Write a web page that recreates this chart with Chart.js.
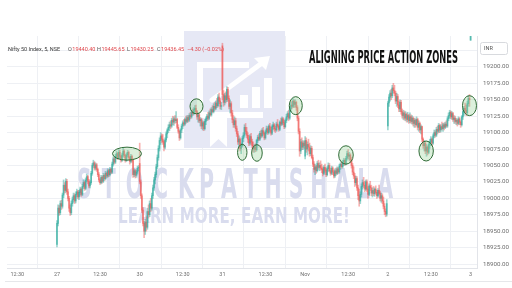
<!DOCTYPE html>
<html><head><meta charset="utf-8">
<script src="https://cdn.jsdelivr.net/npm/chart.js@4"></script>
<style>html,body{margin:0;padding:0;background:#fff;overflow:hidden}</style>
</head><body>
<canvas id="c" width="512" height="288"></canvas>
<script>
// ---------- DATA ----------
const timeTickLabels = ["12:30","27","12:30","30","12:30","31","12:30","Nov","12:30","2","12:30","3"];
const timeTickBars   = [-36, 0, 39, 75, 114, 150, 189, 225, 264, 300, 339, 375];
const priceTicks = [18900,18925,18950,18975,19000,19025,19050,19075,19100,19125,19150,19175,19200,19225];

const opens = [
// 27 Oct
18930,18962,18985,18978,18992,18988,19005,19020,19012,19026,19010,19000,18985,18978,18992,
18998,19004,18996,19006,19010,19002,19009,19014,19006,19018,19024,19015,19028,19033,19026,
19019,19024,19038,19050,19054,19046,19051,19044,19036,19028,19024,19032,19026,19035,19030,
19038,19034,19042,19036,19044,19040,19052,19060,19055,19064,19068,19062,19070,19064,19058,
19066,19072,19065,19058,19066,19070,19062,19056,19064,19058,19036,19042,19035,19040,19046,
// 30 Oct
19053,19025,19004,18982,18962,18950,18964,18956,18980,18975,18992,18985,19004,19016,19028,
19036,19048,19062,19076,19088,19095,19090,19086,19078,19089,19098,19104,19108,19112,19110,
19119,19116,19121,19118,19120,19108,19102,19092,19104,19110,19115,19113,19120,19117,19123,
19119,19126,19124,19131,19129,19135,19137,19132,19124,19127,19118,19120,19110,19115,19106,
19117,19121,19125,19122,19130,19127,19135,19132,19140,19137,19145,19141,19154,19148,19140,
// 31 Oct
19232,19158,19146,19156,19150,19166,19152,19140,19144,19130,19120,19112,19118,19106,19098,
19086,19090,19076,19080,19091,19096,19108,19102,19096,19090,19084,19094,19086,19080,19075,
19078,19074,19088,19093,19090,19099,19095,19103,19099,19092,19101,19106,19100,19110,19104,
19099,19109,19112,19106,19104,19113,19110,19105,19116,19113,19121,19115,19109,19118,19124,
19129,19122,19136,19142,19140,19148,19143,19146,19138,19122,19102,19072,19086,19078,19084,
// 1 Nov
19064,19088,19075,19082,19078,19068,19076,19062,19052,19044,19048,19042,19053,19047,19050,
19046,19044,19038,19047,19043,19036,19045,19050,19042,19038,19046,19040,19034,19042,19038,
19045,19040,19049,19052,19048,19055,19058,19053,19061,19068,19064,19066,19058,19050,19040,
19034,19024,19030,19016,19004,18996,19006,19018,19024,19020,19014,19025,19014,19006,19019,
19016,19008,19012,19007,19014,19009,19004,19012,19008,19000,19004,18996,18988,18980,18976,
// 2 Nov
19110,19145,19154,19160,19156,19168,19164,19160,19148,19155,19142,19136,19146,19132,19126,
19130,19122,19128,19120,19126,19118,19124,19117,19122,19114,19119,19112,19120,19108,19114,
19104,19109,19090,19080,19084,19072,19078,19070,19082,19086,19090,19084,19095,19100,19096,
19105,19102,19111,19104,19109,19106,19112,19108,19113,19110,19121,19126,19131,19124,19129,
19120,19122,19117,19119,19114,19121,19116,19112,19124,19132,19137,19134,19130,19144,19152,
// 3 Nov
19241
];
const highs = [
18966,18990,18989,18996,18997,19008,19028,19024,19030,19029,19014,19003,18990,18996,19002,
19008,19007,19010,19014,19012,19012,19017,19016,19021,19028,19026,19031,19037,19035,19029,
19027,19041,19053,19058,19056,19054,19053,19046,19039,19030,19035,19034,19038,19037,19041,
19040,19045,19044,19047,19046,19055,19063,19062,19067,19072,19070,19074,19073,19066,19069,
19076,19074,19067,19069,19073,19072,19064,19067,19066,19060,19045,19044,19043,19049,19050,
19084,19028,19007,18986,18965,18968,18972,18985,18990,18996,19000,19008,19020,19032,19040,
19052,19066,19080,19092,19100,19098,19097,19088,19092,19101,19106,19112,19116,19118,19122,
19125,19124,19126,19132,19122,19112,19104,19106,19113,19118,19120,19122,19125,19126,19126,
19129,19131,19134,19136,19138,19141,19142,19134,19130,19129,19123,19122,19118,19117,19120,
19124,19128,19131,19133,19136,19138,19141,19144,19146,19148,19152,19158,19160,19152,19146,
19236,19164,19160,19162,19170,19169,19156,19150,19147,19134,19126,19124,19122,19110,19102,
19095,19092,19084,19094,19100,19112,19114,19108,19100,19096,19097,19099,19090,19086,19082,
19083,19090,19096,19098,19102,19104,19106,19108,19101,19104,19110,19109,19112,19114,19108,
19112,19116,19114,19110,19116,19120,19112,19118,19122,19124,19123,19119,19121,19128,19132,
19134,19140,19146,19148,19152,19150,19150,19148,19141,19125,19106,19090,19092,19088,19087,
19094,19092,19086,19090,19084,19080,19079,19066,19056,19052,19050,19056,19058,19054,19057,
19052,19048,19050,19052,19046,19048,19054,19053,19046,19049,19048,19043,19045,19046,19048,
19047,19052,19054,19056,19058,19061,19060,19064,19072,19074,19070,19068,19062,19053,19048,
19038,19034,19033,19020,19014,19010,19022,19028,19032,19026,19028,19028,19018,19022,19026,
19020,19016,19018,19016,19019,19012,19015,19020,19011,19008,19007,19002,18992,18984,18998,
19148,19158,19164,19166,19172,19175,19172,19163,19160,19158,19148,19150,19149,19136,19134,
19133,19132,19130,19131,19128,19130,19127,19126,19124,19122,19121,19124,19122,19118,19116,
19112,19110,19092,19088,19086,19082,19080,19086,19090,19094,19092,19098,19104,19103,19108,
19110,19114,19113,19112,19116,19114,19115,19116,19118,19124,19130,19134,19133,19132,19131,
19126,19125,19122,19121,19124,19123,19118,19126,19136,19140,19145,19142,19148,19156,19158,
19262
];
const lows = [
18926,18958,18974,18975,18983,18985,19001,19008,19009,19006,18996,18980,18974,18975,18988,
18994,18992,18993,19002,18999,18998,19005,19003,19004,19015,19012,19013,19025,19022,19016,
19016,19021,19035,19047,19043,19043,19041,19033,19025,19021,19022,19023,19024,19027,19028,
19031,19032,19033,19034,19037,19038,19049,19052,19053,19061,19059,19060,19061,19055,19056,
19063,19062,19055,19056,19063,19059,19052,19054,19055,19032,19033,19031,19032,19037,19042,
19022,19000,18978,18958,18940,18945,18950,18953,18970,18972,18980,18982,19000,19012,19022,
19032,19045,19058,19072,19082,19085,19082,19072,19075,19086,19092,19100,19103,19106,19108,
19112,19111,19114,19115,19106,19099,19088,19090,19100,19106,19110,19111,19114,19115,19116,
19117,19121,19122,19126,19127,19131,19130,19120,19116,19115,19110,19106,19104,19103,19104,
19112,19118,19119,19120,19125,19125,19130,19130,19134,19135,19138,19139,19144,19136,19135,
19150,19140,19142,19145,19147,19148,19136,19130,19125,19115,19108,19108,19102,19094,19082,
19078,19072,19068,19078,19086,19093,19098,19092,19085,19080,19081,19082,19076,19070,19070,
19071,19072,19085,19088,19088,19092,19093,19096,19089,19090,19098,19097,19098,19101,19096,
19097,19105,19102,19100,19102,19108,19102,19103,19110,19111,19112,19106,19107,19115,19120,
19118,19120,19132,19136,19138,19138,19139,19134,19118,19098,19064,19068,19074,19074,19076,
19060,19070,19066,19072,19064,19065,19060,19048,19040,19036,19038,19040,19044,19042,19043,
19039,19034,19036,19040,19033,19034,19041,19040,19035,19036,19036,19031,19032,19035,19036,
19037,19038,19044,19046,19046,19050,19050,19051,19058,19060,19058,19054,19046,19036,19030,
19018,19020,19012,18998,18988,18992,19002,19014,19016,19010,19012,19010,19000,19004,19012,
19004,19002,19004,19003,19006,19000,19002,19006,18996,18994,18992,18984,18975,18972,18973,
19104,19140,19148,19150,19153,19160,19156,19144,19140,19138,19132,19132,19128,19122,19120,
19119,19118,19116,19116,19114,19115,19114,19113,19110,19108,19108,19110,19104,19102,19100,
19098,19086,19076,19072,19068,19064,19066,19068,19076,19080,19080,19082,19092,19093,19094,
19098,19100,19100,19101,19104,19102,19104,19106,19108,19108,19118,19122,19121,19120,19117,
19114,19114,19112,19110,19112,19112,19108,19110,19120,19126,19130,19126,19128,19140,19140,
19240
];
const closes = [
18962,18985,18978,18992,18988,19005,19020,19012,19026,19010,19000,18985,18978,18992,18998,
19004,18996,19006,19010,19002,19009,19014,19006,19018,19024,19015,19028,19033,19026,19019,
19024,19038,19050,19054,19046,19051,19044,19036,19028,19024,19032,19026,19035,19030,19038,
19034,19042,19036,19044,19040,19052,19060,19055,19064,19068,19062,19070,19064,19058,19066,
19072,19065,19058,19066,19070,19062,19056,19064,19058,19036,19042,19035,19040,19046,19047,
19025,19004,18982,18962,18950,18964,18956,18980,18975,18992,18985,19004,19016,19028,19036,
19048,19062,19076,19088,19095,19090,19086,19078,19089,19098,19104,19108,19112,19110,19119,
19116,19121,19118,19120,19108,19102,19092,19104,19110,19115,19113,19120,19117,19123,19119,
19126,19124,19131,19129,19135,19137,19132,19124,19127,19118,19120,19110,19115,19106,19117,
19121,19125,19122,19130,19127,19135,19132,19140,19137,19145,19141,19154,19148,19140,19141,
19158,19146,19156,19150,19166,19152,19140,19144,19130,19120,19112,19118,19106,19098,19086,
19090,19076,19080,19091,19096,19108,19102,19096,19090,19084,19094,19086,19080,19075,19078,
19074,19088,19093,19090,19099,19095,19103,19099,19092,19101,19106,19100,19110,19104,19099,
19109,19112,19106,19104,19113,19110,19105,19116,19113,19121,19115,19109,19118,19124,19129,
19122,19136,19142,19140,19148,19143,19146,19138,19122,19102,19072,19086,19078,19084,19080,
19088,19075,19082,19078,19068,19076,19062,19052,19044,19048,19042,19053,19047,19050,19046,
19044,19038,19047,19043,19036,19045,19050,19042,19038,19046,19040,19034,19042,19038,19045,
19040,19049,19052,19048,19055,19058,19053,19061,19068,19064,19066,19058,19050,19040,19034,
19024,19030,19016,19004,18996,19006,19018,19024,19020,19014,19025,19014,19006,19019,19016,
19008,19012,19007,19014,19009,19004,19012,19008,19000,19004,18996,18988,18980,18976,18992,
19145,19154,19160,19156,19168,19164,19160,19148,19155,19142,19136,19146,19132,19126,19130,
19122,19128,19120,19126,19118,19124,19117,19122,19114,19119,19112,19120,19108,19114,19104,
19109,19090,19080,19084,19072,19078,19070,19082,19086,19090,19084,19095,19100,19096,19105,
19102,19111,19104,19109,19106,19112,19108,19113,19110,19121,19126,19131,19124,19129,19120,
19122,19117,19119,19114,19121,19116,19112,19124,19132,19137,19134,19130,19144,19152,19150,
19250
];

// highlighted zones: centre bar index and centre price
const zoneBars   = [63.5, 126.5, 168, 181.3, 216.5, 262, 334.7, 374];
const zonePrices = [19068, 19140, 19070, 19069, 19141, 19066, 19072, 19141];

const chartTitle = "ALIGNING PRICE ACTION ZONES";
const symbolText = "Nifty 50 Index, 5, NSE";
const ohlcLetters = ["O","H","L","C",""];
const ohlcValues  = ["19440.40","19445.65","19430.25","19436.45","\u22124.30 (\u22120.02%)"];
const currencyText = "INR";
const brandWords = ["STOCK", "PATHSHALA"];
const sloganText = "LEARN MORE, EARN MORE!";

// ---------- STYLE ----------
const WICK_UP = 'rgba(38,166,154,0.45)', WICK_DOWN = 'rgba(239,83,80,0.45)';
const BODY_UP = 'rgba(38,166,154,0.6)',  BODY_DOWN = 'rgba(239,83,80,0.6)';
const zoneRadii = [[14.5,6.5],[6.5,7.5],[4.7,8],[5.3,8.3],[6.5,9],[7.3,9.2],[7.2,10],[7,10]];
const WM = '#d9dcee';

const wickData = opens.map((o,i)=>({x:i, y:[lows[i], highs[i]]}));
const bodyData = opens.map((o,i)=>({x:i, y:[o, closes[i] === o ? o + 0.5 : closes[i]]}));
const isUp = i => closes[i] >= opens[i];

function spacedText(ctx, text, x0, x1, y, font, sx) {
  ctx.font = font;
  const chars = text.split('');
  const ws = chars.map(c => ctx.measureText(c).width * sx);
  const total = ws.reduce((a,b)=>a+b,0);
  const gap = (x1 - x0 - total) / (chars.length - 1);
  let x = x0;
  chars.forEach((c,k)=>{
    ctx.save(); ctx.translate(x, y); ctx.scale(sx,1); ctx.fillText(c, 0, 0); ctx.restore();
    x += ws[k] + gap;
  });
}

const overlay = {
  id:'overlay',
  beforeDatasetsDraw(chart){
    const ctx = chart.ctx;
    ctx.save();
    ctx.fillStyle = '#e6e8f5';
    ctx.fillRect(184, 31, 101, 117);
    ctx.fillStyle = '#ffffff';
    ctx.fillRect(197, 62, 52, 6);
    ctx.fillRect(197, 62, 6, 56);
    ctx.fillRect(197, 112, 66, 6);
    ctx.fillRect(240, 95, 8, 13);
    ctx.fillRect(252, 87, 8, 21);
    ctx.fillRect(264, 78, 8, 30);
    ctx.strokeStyle = '#ffffff'; ctx.lineWidth = 5; ctx.lineCap = 'round';
    ctx.beginPath(); ctx.moveTo(212,100); ctx.lineTo(262,63); ctx.stroke();
    ctx.beginPath(); ctx.moveTo(270,56); ctx.lineTo(254,58); ctx.lineTo(266,70); ctx.closePath(); ctx.fill();
    ctx.beginPath(); ctx.moveTo(210,118); ctx.lineTo(227,118); ctx.lineTo(227,147); ctx.lineTo(218.5,139); ctx.lineTo(210,147); ctx.closePath(); ctx.fill();
    ctx.fillStyle = WM;
    ctx.textBaseline = 'alphabetic';
    spacedText(ctx, brandWords[0], 77, 194, 198, '600 41px "DejaVu Sans"', 0.5);
    spacedText(ctx, brandWords[1], 199, 393, 198, '600 41px "DejaVu Sans"', 0.5);
    spacedText(ctx, sloganText, 118, 350, 223, '600 21px "DejaVu Sans"', 0.72);
    ctx.restore();
  },
  afterDatasetsDraw(chart){
    const ctx = chart.ctx, xs = chart.scales.x, ys = chart.scales.y;
    ctx.save();
    zoneBars.forEach((b,k)=>{
      const cx = xs.getPixelForValue(b), cy = ys.getPixelForValue(zonePrices[k]);
      ctx.beginPath();
      ctx.ellipse(cx, cy, zoneRadii[k][0], zoneRadii[k][1], 0, 0, Math.PI*2);
      ctx.fillStyle = 'rgba(150,210,150,0.33)'; ctx.fill();
      ctx.strokeStyle = '#2f6b36'; ctx.lineWidth = 1; ctx.stroke();
    });
    ctx.restore();
  },
  afterDraw(chart){
    const ctx = chart.ctx;
    ctx.save();
    ctx.textBaseline = 'middle';
    ctx.font = '5.5px Roboto';
    ctx.fillStyle = '#3b3b3b';
    ctx.fillText(symbolText, 8, 50, 57);
    const xs = [68, 97, 127, 157, 187];
    ohlcLetters.forEach((l,k)=>{
      let x = xs[k];
      if (l) { ctx.fillStyle = '#555'; ctx.fillText(l, x, 50); x += ctx.measureText(l).width + 0.5; }
      ctx.fillStyle = '#e0484d';
      ctx.fillText(ohlcValues[k], x, 50);
    });
    ctx.fillStyle = '#111';
    ctx.textBaseline = 'alphabetic';
    ctx.font = 'bold 18px "DejaVu Sans Condensed", "DejaVu Sans"';
    ctx.fillText(chartTitle, 309, 63, 149);
    ctx.strokeStyle = '#d8dade'; ctx.lineWidth = 1; ctx.fillStyle = '#fff';
    ctx.beginPath(); ctx.roundRect(480.5, 42.5, 27, 12, 2); ctx.fill(); ctx.stroke();
    ctx.fillStyle = '#555'; ctx.font = '5.5px Roboto'; ctx.textBaseline = 'middle';
    ctx.fillText(currencyText, 484, 48.5);
    ctx.strokeStyle = '#e6e7ea';
    ctx.beginPath(); ctx.moveTo(5, 281.5); ctx.lineTo(512, 281.5); ctx.stroke();
    ctx.restore();
  }
};

new Chart(document.getElementById('c'), {
  type: 'bar',
  data: {
    datasets: [
      {data: wickData, backgroundColor: c => isUp(c.dataIndex) ? WICK_UP : WICK_DOWN, barThickness: 1, grouped: false, borderWidth: 0, order: 2},
      {data: bodyData, backgroundColor: c => isUp(c.dataIndex) ? BODY_UP : BODY_DOWN, barThickness: 1, grouped: false, borderWidth: 0, order: 1}
    ]
  },
  options: {
    responsive: false, devicePixelRatio: 1, animation: false,
    layout: {padding: {left: 7, top: 36, right: 0, bottom: 0}},
    plugins: {legend: {display: false}, tooltip: {enabled: false}},
    scales: {
      x: {
        type: 'linear', min: -45.3, max: 380.8, offset: false,
        afterBuildTicks: s => { s.ticks = timeTickBars.map(v => ({value: v})); },
        afterFit: s => { s.height = 20; },
        ticks: {autoSkip: false, maxRotation: 0, padding: 3, color: '#6e6e6e',
          font: {family: 'Roboto', size: 5.5},
          callback: v => { const k = timeTickBars.indexOf(v); return k >= 0 ? timeTickLabels[k] : ''; }},
        grid: {color: '#eef0f4', drawTicks: false},
        border: {display: true, color: '#e2e4e9'}
      },
      y: {
        type: 'linear', position: 'right', min: 18894, max: 19247,
        afterBuildTicks: s => { s.ticks = priceTicks.map(v => ({value: v})); },
        afterFit: s => { s.width = 35; },
        ticks: {padding: 6, color: '#6e6e6e', font: {family: 'Roboto', size: 6.2},
          callback: v => v > 19200 ? '' : Number(v).toFixed(2)},
        grid: {color: '#eef0f4', drawTicks: false},
        border: {display: true, color: '#e2e4e9'}
      }
    }
  },
  plugins: [overlay]
});
</script>
</body></html>
